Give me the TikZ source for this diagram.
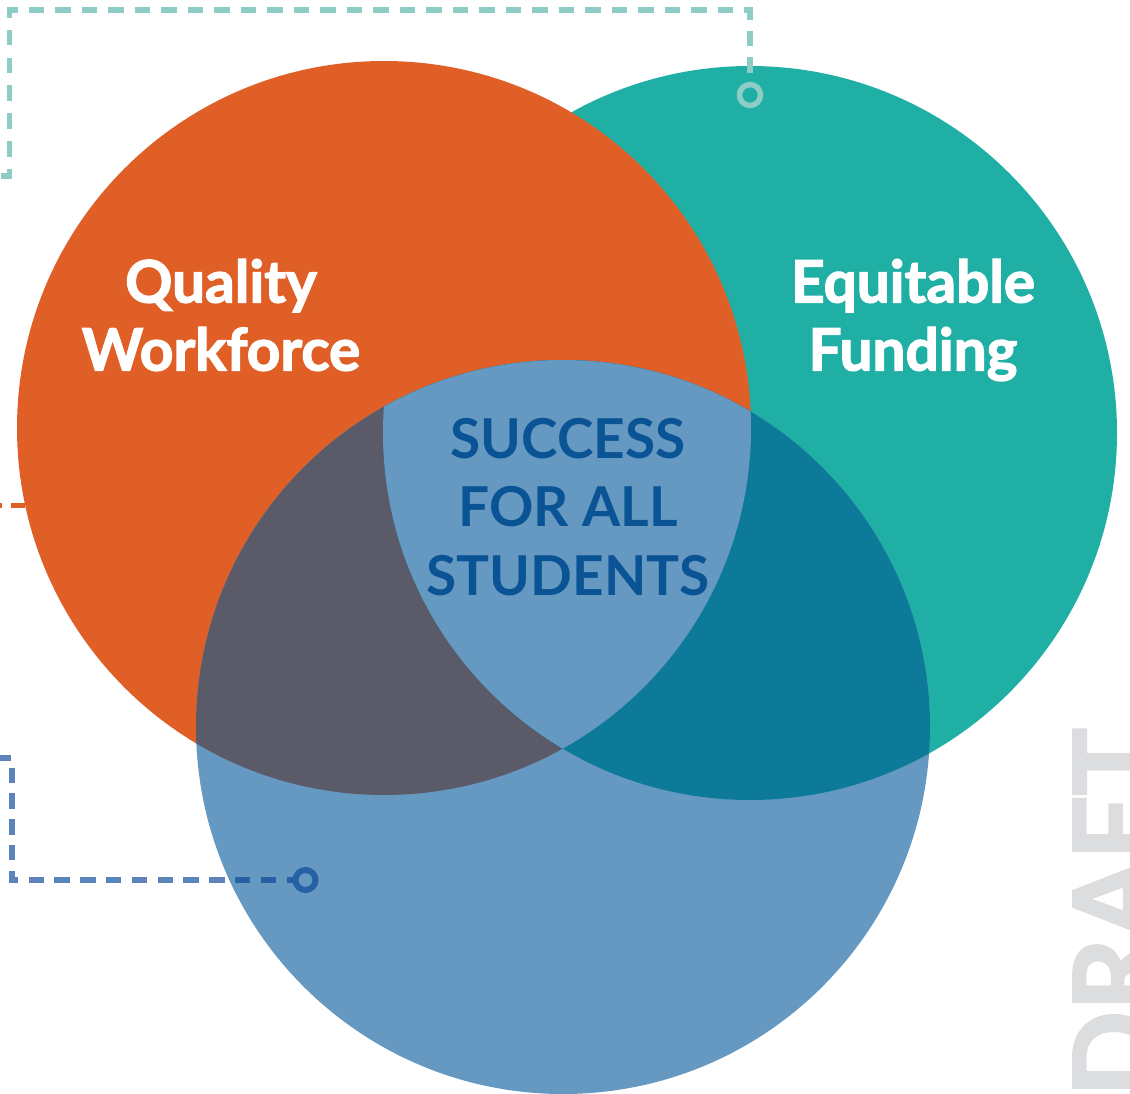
\documentclass[tikz,border=0pt]{standalone}
\usepackage{fontspec}
\setmainfont{Lato}
\newfontfamily\latoheavy{Lato}[UprightFeatures={FakeBold=2.2},BoldFeatures={FakeBold=2.2}]
\definecolor{orng}{HTML}{E05F27}
\definecolor{tealc}{HTML}{20AFA5}
\definecolor{blu}{HTML}{6699C2}
\definecolor{dgray}{HTML}{5A5A68}
\definecolor{dteal}{HTML}{0E7A9A}
\definecolor{navy}{HTML}{0A5495}
\definecolor{tdash}{HTML}{8DCDC5}
\definecolor{bdash}{RGB}{7,69,150}
\definecolor{wm}{HTML}{DCDDDF}
\begin{document}
\begin{tikzpicture}[x=1pt,y=-1pt,
  tdashline/.style={line width=5.5pt, tdash},
  bdashline/.style={line width=6pt, bdash, draw opacity=0.66, dash pattern=on 15.5pt off 10.3pt, dash phase=9.5pt},
  odashline/.style={line width=5.5pt, orng, dash pattern=on 14.5pt off 9pt},
  ringmark/.style={circle, line width=5.5pt, minimum size=21pt, inner sep=0pt},
  bigtitle/.style={text=white, font=\latoheavy\bfseries\fontsize{58.5}{68}\selectfont, align=center, inner sep=0pt},
  centertitle/.style={text=navy, font=\bfseries\fontsize{55}{68.5}\selectfont, align=center, inner sep=0pt}]
\useasboundingbox (0,0) rectangle (1130,1093);
\clip (0,0) rectangle (1130,1093);
\def\R{367pt}
\coordinate (cO) at (384,428);
\coordinate (cT) at (750,433);
\coordinate (cB) at (563,727);
% watermark
\node[rotate=90, text=wm, font=\latoheavy\bfseries\fontsize{113}{113}\selectfont, anchor=base west, inner sep=0pt] (draft) at (1155,1097) {DRAFT};
% circles
\fill[tealc] (cT) circle[radius=\R];
\fill[orng] (cO) circle[radius=\R];
\fill[blu] (cB) circle[radius=\R];
\begin{scope}
  \clip (cB) circle[radius=\R];
  \fill[dgray] (cO) circle[radius=\R];
  \fill[dteal] (cT) circle[radius=\R];
  \clip (cO) circle[radius=\R];
  \fill[blu] (cT) circle[radius=\R];
\end{scope}
% teal dashed connector
\node[ringmark, draw=tdash] (tring) at (750,95) {};
\coordinate (tc1) at (750,10);
\coordinate (tc2) at (17.5,10);
\coordinate (tc3) at (9.5,10);
\coordinate (tc4) at (9.5,176);
\coordinate (tend) at (-6,176);
\draw[tdashline, dash pattern=on 15.5pt off 11pt, dash phase=15.5pt] (tc2) -- (tc1) -- (tring.north);
\draw[tdashline, dash pattern=on 15.5pt off 12.3pt] (tc2) -- (tc3) -- (tc4) -- (tend);
% orange dashed connector
\coordinate (oleft) at (25.2,505.5);
\coordinate (oend) at (-14,505.5);
\draw[odashline] (oleft) -- (oend);
% blue dashed connector
\node[ringmark, line width=6pt, minimum size=20pt, draw=bdash, draw opacity=0.66] (bring) at (305.5,880) {};
\coordinate (bc1) at (12,880);
\coordinate (bc2) at (12,758);
\coordinate (bend) at (-6,758);
\draw[bdashline] (bring.west) -- (bc1) -- (bc2) -- (bend);
% labels
\node[bigtitle] (qw) at (221,315) {Quality\\Workforce};
\node[bigtitle] (ef) at (913,320) {Equitable\\Funding};
\node[centertitle] (sfas) at (568,507) {SUCCESS\\FOR ALL\\STUDENTS};
\end{tikzpicture}
\end{document}
